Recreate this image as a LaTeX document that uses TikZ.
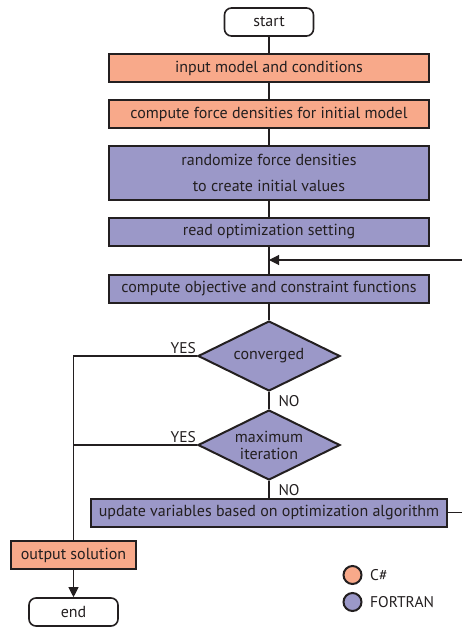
\documentclass[tikz,border=0pt]{standalone}
\usepackage{fontspec}
\setmainfont{PT Sans}
\usetikzlibrary{shapes.geometric,arrows.meta,calc}
\definecolor{csc}{HTML}{F8A98A}
\definecolor{ftc}{HTML}{9B98C8}
\definecolor{ink}{HTML}{231F20}
\tikzset{
  txt/.style={font=\fontsize{16}{18}\selectfont},
  box/.style={draw=ink, line width=2pt, minimum height=28pt, inner sep=0pt, text=ink, txt},
  wide/.style={box, minimum width=320pt},
  term/.style={draw=ink, line width=1.6pt, rounded corners=7pt, minimum width=89pt, minimum height=28pt, inner sep=0pt, text=ink, txt},
  dec/.style={diamond, draw=ink, line width=2pt, fill=ftc, minimum width=142pt, minimum height=70pt, aspect=2, inner sep=0pt, text=ink, align=center, font=\fontsize{16}{17}\selectfont},
  conn/.style={draw=ink, line width=1.1pt},
  lab/.style={text=ink, font=\fontsize{15.5}{17}\selectfont, inner sep=0pt},
  tip/.style={-{Triangle[length=10pt,width=10pt]}},
  leg/.style={circle, draw=ink, line width=2pt, minimum size=18pt, inner sep=0pt}
}
\begin{document}
\begin{tikzpicture}[x=1pt,y=-1pt]
\useasboundingbox (0,0) rectangle (462,628);
\node[term] (start) at (269,22) {start};
\node[wide, fill=csc] (input) at (269,68) {input model and conditions};
\node[wide, fill=csc] (force) at (269,114) {compute force densities for initial model};
\node[wide, fill=ftc, minimum height=54pt, align=center] (rand) at (269,173) {randomize force densities\\[8pt]to create initial values};
\node[wide, fill=ftc] (read) at (269,232) {read optimization setting};
\node[wide, fill=ftc] (obj) at (269,288.5) {compute objective and constraint functions};
\node[dec] (conv) at (269,356) {converged};
\node[dec] (maxit) at (269,445) {maximum\\iteration};
\node[box, fill=ftc, minimum width=356pt] (upd) at (269,512.5) {update variables based on optimization algorithm};
\node[box, fill=csc, minimum width=125pt] (out) at (73.5,555) {output solution};
\node[term] (end) at (73.5,612) {end};

\coordinate (fb) at (462,260);
\coordinate (fbin) at (269,260);
\coordinate (updout) at (462,512.5);
\coordinate (cl) at (73.5,356);
\coordinate (ml) at (73.5,445);

\draw[conn] (start) -- (input);
\draw[conn] (input) -- (force);
\draw[conn] (force) -- (rand);
\draw[conn] (rand) -- (read);
\draw[conn] (read) -- (obj);
\draw[conn, tip] (fb) -- (fbin);
\draw[conn] (obj) -- (conv);
\draw[conn] (conv) -- node[lab, right=9pt, pos=0.55] {NO} (maxit);
\draw[conn] (maxit) -- node[lab, right=9pt, pos=0.55] {NO} (upd);
\draw[conn] (upd.east) -- (updout);
\draw[conn] (conv.west) -- (cl) -- (out.north);
\draw[conn] (maxit.west) -- (ml);
\draw[conn, tip] (out) -- (end);
\node[lab, anchor=south east] (y1) at ($(conv.west)+(-1,-2)$) {YES};
\node[lab, anchor=south east] (y2) at ($(maxit.west)+(-1,-2)$) {YES};

\node[leg, fill=csc] (lc) at (352.5,575) {};
\node[lab, anchor=west] (lct) at (370,575) {C\#};
\node[leg, fill=ftc] (lf) at (352.5,602) {};
\node[lab, anchor=west] (lft) at (370,602) {FORTRAN};
\end{tikzpicture}
\end{document}
